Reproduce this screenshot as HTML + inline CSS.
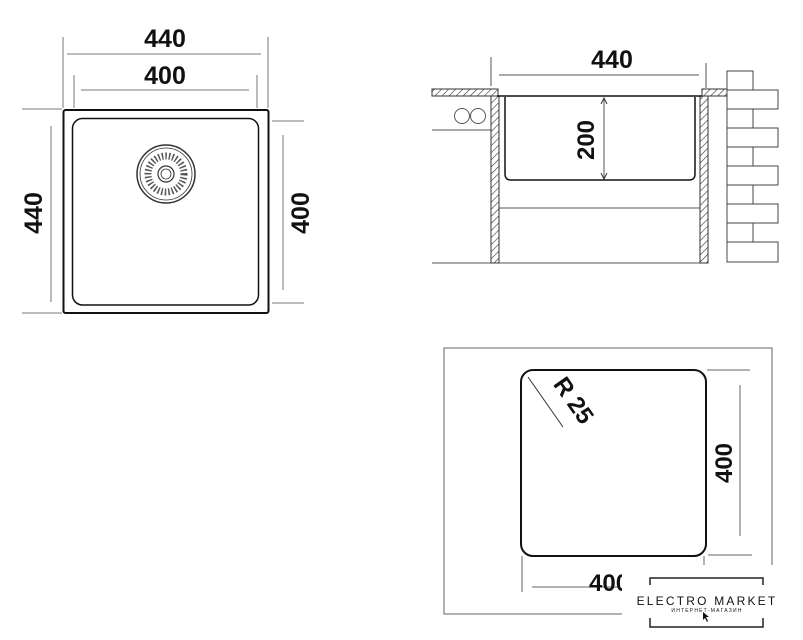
<!DOCTYPE html>
<html><head><meta charset="utf-8"><style>
html,body{margin:0;padding:0;background:#fff;}
svg{display:block;}
text{font-family:"Liberation Sans",sans-serif;font-weight:bold;fill:#111;}
text.n{font-weight:normal;}
</style></head><body>
<svg width="803" height="640" viewBox="0 0 803 640" xmlns="http://www.w3.org/2000/svg">
<defs>
<pattern id="h" width="5" height="5" patternUnits="userSpaceOnUse" patternTransform="rotate(45)">
<line x1="0" y1="0" x2="0" y2="5" stroke="#333" stroke-width="1.2"/>
</pattern>
</defs>
<g stroke="#777" stroke-width="1" fill="none">
<line x1="63" y1="37" x2="63" y2="108"/><line x1="268" y1="37" x2="268" y2="108"/>
<line x1="67" y1="54" x2="261" y2="54"/>
<line x1="74" y1="75" x2="74" y2="108"/><line x1="257" y1="75" x2="257" y2="108"/>
<line x1="81" y1="90" x2="249" y2="90"/>
<line x1="22" y1="109" x2="62" y2="109"/><line x1="22" y1="313" x2="62" y2="313"/>
<line x1="51" y1="126" x2="51" y2="302"/>
<line x1="272" y1="121" x2="304" y2="121"/><line x1="272" y1="303" x2="304" y2="303"/>
<line x1="283" y1="135" x2="283" y2="290"/>
</g>
<rect x="63.5" y="110" width="205" height="203" rx="2" fill="none" stroke="#111" stroke-width="2"/>
<rect x="72.5" y="118.5" width="186" height="186.5" rx="10" fill="none" stroke="#111" stroke-width="1.5"/>
<g fill="none" stroke="#333">
<circle cx="166" cy="174" r="29" stroke-width="1.5"/>
<circle cx="166" cy="174" r="26" stroke-width="0.8"/>
<circle cx="166" cy="174" r="18" stroke-width="7" stroke="#555" stroke-dasharray="1.5 2"/>
<circle cx="166" cy="174" r="8" stroke-width="1.2"/>
<circle cx="166" cy="174" r="5" stroke-width="0.8"/>
</g>
<text x="165" y="47" font-size="25" text-anchor="middle">440</text>
<text x="165" y="84" font-size="25" text-anchor="middle">400</text>
<text transform="translate(42,213) rotate(-90)" font-size="25" text-anchor="middle">440</text>
<text transform="translate(309,213) rotate(-90)" font-size="25" text-anchor="middle">400</text>

<g stroke="#555" stroke-width="1" fill="none">
<line x1="491" y1="57" x2="491" y2="86"/><line x1="706" y1="63" x2="706" y2="88"/>
<line x1="499" y1="75" x2="699" y2="75"/>
<line x1="432" y1="130" x2="491" y2="130"/>
<line x1="499" y1="208" x2="700" y2="208"/>
<line x1="432" y1="263" x2="700" y2="263"/>
<circle cx="462" cy="116" r="7.5"/><circle cx="478" cy="116" r="7.5"/>
<line x1="604" y1="99" x2="604" y2="178"/>
</g>
<path d="M601,104 L604,98 L607,104 M601,173 L604,179 L607,173" stroke="#333" fill="none"/>
<g stroke="#333" stroke-width="1">
<rect x="432" y="89" width="66" height="7" fill="url(#h)"/>
<rect x="702" y="89" width="25" height="7" fill="url(#h)"/>
<rect x="491" y="96" width="8" height="167" fill="url(#h)"/>
<rect x="700" y="96" width="8" height="167" fill="url(#h)"/>
</g>
<line x1="497" y1="96" x2="702" y2="96" stroke="#111" stroke-width="1.5"/>
<path d="M505,97 L505,174 Q505,180 511,180 L689,180 Q695,180 695,174 L695,97" fill="none" stroke="#111" stroke-width="1.5"/>
<text transform="translate(594,140) rotate(-90)" font-size="24" text-anchor="middle">200</text>
<text x="612" y="68" font-size="25" text-anchor="middle">440</text>
<g stroke="#444" stroke-width="1" fill="none">
<rect x="727" y="71" width="26" height="19"/>
<rect x="727" y="90" width="51" height="19"/>
<rect x="727" y="109" width="26" height="19"/>
<rect x="727" y="128" width="51" height="19"/>
<rect x="727" y="147" width="26" height="19"/>
<rect x="727" y="166" width="51" height="19"/>
<rect x="727" y="185" width="26" height="19"/>
<rect x="727" y="204" width="51" height="19"/>
<rect x="727" y="223" width="26" height="19"/>
<rect x="727" y="242" width="51" height="20"/>
</g>

<g stroke="#666" stroke-width="1" fill="none">
<path d="M772,565 L772,348 L444,348 L444,614 L622,614"/>
<line x1="707" y1="370" x2="750" y2="370"/><line x1="708" y1="555" x2="752" y2="555"/>
<line x1="740" y1="385" x2="740" y2="536"/>
<line x1="522" y1="556" x2="522" y2="592"/><line x1="704" y1="556" x2="704" y2="565"/>
<line x1="532" y1="587" x2="620" y2="587"/>
<line x1="528" y1="377" x2="563" y2="427" stroke="#333"/>
</g>
<rect x="521" y="370" width="185" height="186" rx="12" fill="none" stroke="#111" stroke-width="2"/>
<text transform="translate(567,405) rotate(55)" font-size="24" text-anchor="middle">R 25</text>
<text transform="translate(732,463) rotate(-90)" font-size="24" text-anchor="middle">400</text>
<text x="589" y="591" font-size="24">400</text>
<rect x="622" y="574" width="181" height="66" fill="#fff"/>
<path d="M650,585 L650,578 L763,578 L763,585 M650,618 L650,627 L763,627 L763,618" stroke="#222" stroke-width="1.5" fill="none"/>
<text class="n" x="707" y="605" font-size="12" text-anchor="middle" letter-spacing="2.2">ELECTRO MARKET</text>
<text class="n" x="707" y="612" font-size="5" text-anchor="middle" letter-spacing="1.2">ИНТЕРНЕТ-МАГАЗИН</text>
<path d="M703,612 L703,620 L705,618 L707,622 L708,621 L706,617 L709,617 Z" fill="#111"/>
</svg>
</body></html>
